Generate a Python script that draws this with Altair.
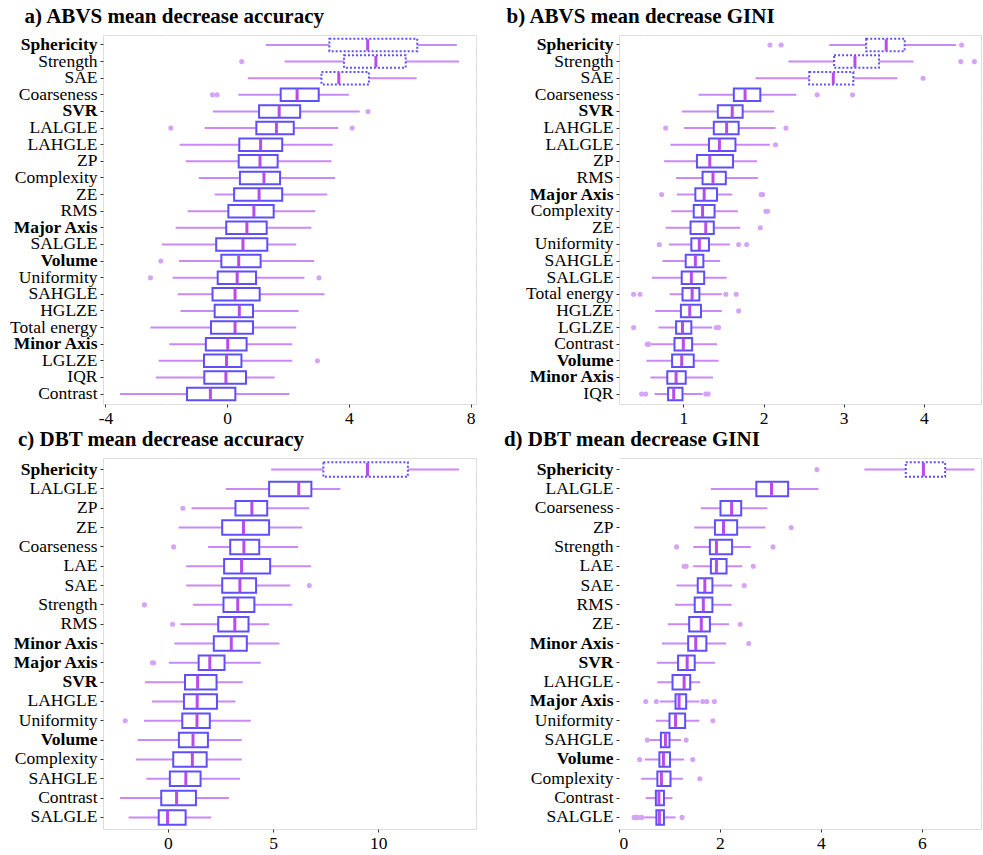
import altair as alt
import pandas as pd

# ---------------- a) ABVS mean decrease accuracy ----------------
A_names = ["Sphericity", "Strength", "SAE", "Coarseness", "SVR", "LALGLE", "LAHGLE", "ZP",
           "Complexity", "ZE", "RMS", "Major Axis", "SALGLE", "Volume", "Uniformity", "SAHGLE",
           "HGLZE", "Total energy", "Minor Axis", "LGLZE", "IQR", "Contrast"]
A_lo = [1.27, 1.89, 0.68, 0.37, -0.47, -0.74, -1.56, -1.36, -0.93, -0.41, -1.30, -1.69, -2.14,
        -1.58, -1.79, -1.62, -1.53, -2.52, -1.90, -2.25, -2.34, -3.52]
A_q1 = [3.36, 3.84, 3.10, 1.76, 1.05, 0.96, 0.40, 0.38, 0.42, 0.23, 0.04, -0.03, -0.36, -0.19,
        -0.31, -0.48, -0.41, -0.53, -0.70, -0.76, -0.75, -1.32]
A_med = [4.62, 4.89, 3.67, 2.30, 1.71, 1.62, 1.10, 1.08, 1.21, 1.05, 0.88, 0.65, 0.52, 0.38,
         0.33, 0.26, 0.40, 0.26, 0.02, -0.02, -0.04, -0.55]
A_q3 = [6.25, 5.87, 4.66, 3.01, 2.40, 2.19, 1.81, 1.66, 1.74, 1.81, 1.53, 1.30, 1.32, 1.10,
        0.95, 1.07, 0.85, 0.85, 0.64, 0.47, 0.62, 0.27]
A_hi = [7.55, 7.62, 6.23, 4.00, 4.36, 3.65, 3.47, 3.43, 3.55, 3.29, 2.90, 2.77, 2.27, 2.86,
        2.54, 3.20, 2.35, 2.27, 2.14, 2.14, 1.56, 2.05]
A_out_name = ["Strength", "Coarseness", "Coarseness", "SVR", "LALGLE", "LALGLE", "Volume",
              "Uniformity", "Uniformity", "LGLZE"]
A_out_val = [0.48, -0.48, -0.33, 4.63, -1.85, 4.11, -2.18, -2.52, 3.02, 2.97]
A_dotted = ["Sphericity", "Strength", "SAE"]
A_ticks = [-4, -2, 0, 2, 4, 6, 8]

# ---------------- b) ABVS mean decrease GINI ----------------
B_names = ["Sphericity", "Strength", "SAE", "Coarseness", "SVR", "LAHGLE", "LALGLE", "ZP", "RMS",
           "Major Axis", "Complexity", "ZE", "Uniformity", "SAHGLE", "SALGLE", "Total energy",
           "HGLZE", "LGLZE", "Contrast", "Volume", "Minor Axis", "IQR"]
B_lo = [2.82, 2.31, 1.90, 1.19, 0.98, 1.01, 0.84, 0.76, 0.91, 0.92, 0.85, 0.78, 0.82, 0.74,
        0.61, 0.83, 0.65, 0.69, 0.60, 0.54, 0.59, 0.64]
B_q1 = [3.28, 2.88, 2.57, 1.63, 1.43, 1.38, 1.32, 1.17, 1.24, 1.15, 1.13, 1.09, 1.10, 1.03,
        0.98, 0.99, 0.97, 0.91, 0.89, 0.86, 0.80, 0.81]
B_med = [3.53, 3.14, 2.87, 1.77, 1.61, 1.54, 1.45, 1.33, 1.37, 1.26, 1.24, 1.28, 1.20, 1.15,
         1.10, 1.11, 1.08, 0.99, 1.00, 0.98, 0.91, 0.88]
B_q3 = [3.76, 3.44, 3.12, 1.96, 1.74, 1.69, 1.65, 1.62, 1.53, 1.42, 1.39, 1.38, 1.32, 1.25,
        1.26, 1.20, 1.22, 1.10, 1.11, 1.13, 1.03, 0.99]
B_hi = [4.40, 3.87, 3.67, 2.41, 2.13, 2.15, 2.08, 1.92, 1.93, 1.61, 1.68, 1.71, 1.58, 1.46,
        1.54, 1.48, 1.48, 1.36, 1.42, 1.44, 1.37, 1.24]
B_out_name = ["Sphericity", "Sphericity", "Sphericity", "Strength", "Strength", "SAE",
              "Coarseness", "Coarseness", "LAHGLE", "LAHGLE", "LALGLE", "Major Axis", "Major Axis",
              "Major Axis", "Complexity", "Complexity", "ZE", "Uniformity", "Uniformity",
              "Uniformity", "Total energy", "Total energy", "Total energy", "Total energy",
              "HGLZE", "LGLZE", "LGLZE", "LGLZE", "Contrast", "Contrast", "IQR", "IQR", "IQR", "IQR"]
B_out_val = [2.08, 2.22, 4.47, 4.46, 4.63, 3.99, 2.67, 3.11, 0.78, 2.28, 2.15, 0.73, 1.97, 1.99,
             2.03, 2.05, 1.96, 0.70, 1.69, 1.79, 0.38, 0.46, 1.53, 1.66, 1.69, 0.38, 1.41, 1.44,
             0.55, 0.57, 0.48, 0.53, 1.28, 1.31]
B_dotted = ["Sphericity", "Strength", "SAE"]
B_ticks = [0.5, 1, 1.5, 2, 2.5, 3, 3.5, 4, 4.5]

# ---------------- c) DBT mean decrease accuracy ----------------
C_names = ["Sphericity", "LALGLE", "ZP", "ZE", "Coarseness", "LAE", "SAE", "Strength", "RMS",
           "Minor Axis", "Major Axis", "SVR", "LAHGLE", "Uniformity", "Volume", "Complexity",
           "SAHGLE", "Contrast", "SALGLE"]
C_lo = [4.91, 2.75, 1.12, 0.51, 1.91, 0.87, 0.87, 1.19, 0.59, 0.30, 0.05, -1.09, -0.76, -1.14,
        -1.44, -1.52, -1.03, -2.28, -1.87]
C_q1 = [7.39, 4.81, 3.21, 2.58, 2.96, 2.67, 2.58, 2.64, 2.39, 2.18, 1.46, 0.81, 0.76, 0.68,
        0.52, 0.25, 0.09, -0.32, -0.44]
C_med = [9.49, 6.22, 3.99, 3.59, 3.61, 3.50, 3.42, 3.32, 3.18, 3.01, 1.99, 1.41, 1.39, 1.38,
         1.19, 1.16, 0.85, 0.41, -0.02]
C_q3 = [11.41, 6.82, 4.72, 4.81, 4.34, 4.86, 4.19, 4.11, 3.83, 3.75, 2.69, 2.31, 2.33, 1.99,
        1.90, 1.84, 1.55, 1.33, 0.84]
C_hi = [13.84, 8.20, 6.72, 6.38, 6.19, 6.80, 5.82, 5.92, 4.81, 5.30, 4.41, 3.56, 3.21, 3.94,
        3.51, 3.51, 3.43, 2.90, 2.06]
C_out_name = ["ZP", "Coarseness", "SAE", "Strength", "RMS", "Major Axis", "Major Axis", "Uniformity"]
C_out_val = [0.71, 0.27, 6.72, -1.12, 0.22, -0.74, -0.68, -2.03]
C_dotted = ["Sphericity"]
C_ticks = [-2.5, 0, 2.5, 5, 7.5, 10, 12.5]

# ---------------- d) DBT mean decrease GINI ----------------
D_names = ["Sphericity", "LALGLE", "Coarseness", "ZP", "Strength", "LAE", "SAE", "RMS", "ZE",
           "Minor Axis", "SVR", "LAHGLE", "Major Axis", "Uniformity", "SAHGLE", "Volume",
           "Complexity", "Contrast", "SALGLE"]
D_lo = [4.86, 1.82, 1.62, 1.49, 1.47, 1.47, 1.14, 1.11, 0.97, 0.85, 0.75, 0.76, 0.81, 0.73,
        0.60, 0.51, 0.44, 0.53, 0.50]
D_q1 = [5.68, 2.72, 2.01, 1.90, 1.80, 1.82, 1.56, 1.50, 1.39, 1.37, 1.17, 1.06, 1.12, 1.00,
        0.83, 0.80, 0.76, 0.73, 0.74]
D_med = [6.03, 3.02, 2.23, 2.07, 1.93, 1.93, 1.70, 1.67, 1.63, 1.52, 1.35, 1.29, 1.19, 1.12,
         0.92, 0.88, 0.84, 0.79, 0.80]
D_q3 = [6.46, 3.35, 2.42, 2.34, 2.24, 2.13, 1.85, 1.85, 1.80, 1.73, 1.50, 1.41, 1.33, 1.31,
        1.00, 1.01, 1.02, 0.89, 0.89]
D_hi = [7.04, 3.95, 2.94, 2.90, 2.61, 2.44, 2.24, 2.23, 2.18, 2.12, 1.90, 1.61, 1.59, 1.59,
        1.23, 1.29, 1.27, 1.06, 1.12]
D_out_name = ["Sphericity", "ZP", "Strength", "Strength", "LAE", "LAE", "LAE", "SAE", "ZE",
              "Minor Axis", "Major Axis", "Major Axis", "Major Axis", "Major Axis", "Major Axis",
              "Uniformity", "SAHGLE", "SAHGLE", "Volume", "Volume", "Complexity",
              "SALGLE", "SALGLE", "SALGLE", "SALGLE", "SALGLE"]
D_out_val = [3.92, 3.41, 1.14, 3.05, 1.29, 1.33, 2.66, 2.48, 2.40, 2.57, 0.53, 0.74, 1.66, 1.74,
             1.89, 1.86, 0.56, 1.33, 0.41, 1.46, 1.60, 0.30, 0.33, 0.37, 0.45, 1.25]
D_dotted = ["Sphericity"]
D_ticks = [0, 1, 2, 3, 4, 5, 6, 7]

BOLD = ["Sphericity", "SVR", "Major Axis", "Volume", "Minor Axis"]

FONT = "Liberation Serif"
WHISKER = "#C98AF7"
BOXLINE = "#5F4FF8"
MEDIAN = "#B84CEB"
OUTLIER = "#D6A4F6"


def panel(title, names, lo, q1, med, q3, hi, on, ov, dotted, domain, ticks, major,
          width, height, tick_size, title_dx):
    box = pd.DataFrame(dict(name=names, lo=lo, q1=q1, med=med, q3=q3, hi=hi,
                            dotted=[n in dotted for n in names]))
    out = pd.DataFrame(dict(name=on, v=ov))
    bold_test = "indexof(" + str(BOLD) + ", datum.value) >= 0"
    y = alt.Y("name:N", sort=names, title=None,
              scale=alt.Scale(domain=names, paddingInner=0.25, paddingOuter=0.225),
              axis=alt.Axis(domain=False, tickColor="#333333", tickSize=3, tickWidth=1,
                            labelFontSize=17.5, labelColor="black", labelPadding=3,
                            labelFont=FONT,
                            labelFontWeight={"condition": {"test": bold_test, "value": "bold"},
                                             "value": "normal"},
                            grid=True, gridColor="white", gridWidth=1.4, bandPosition=0.5))
    xscale = alt.Scale(domain=domain, nice=False, zero=False)
    xaxis = alt.Axis(values=ticks, domain=False, tickColor="#333333", tickSize=3, tickWidth=1,
                     labelFontSize=17.5, labelColor="black", labelPadding=2, labelFont=FONT,
                     labelExpr="(" + major + ") ? '' + datum.value : ''",
                     tickOpacity={"condition": {"test": major, "value": 1}, "value": 0},
                     grid=True, gridColor="white",
                     gridWidth={"condition": {"test": major, "value": 1.4}, "value": 0.7})
    base = alt.Chart(box)
    whisk = base.mark_rule(color=WHISKER, strokeWidth=2).encode(
        x=alt.X("lo:Q", scale=xscale, axis=xaxis, title=None), x2="hi:Q", y=y)
    solid = base.transform_filter("!datum.dotted").mark_bar(
        fill="white", stroke=BOXLINE, strokeWidth=2).encode(x="q1:Q", x2="q3:Q", y=y)
    dots = base.transform_filter("datum.dotted").mark_bar(
        fill="white", stroke=BOXLINE, strokeWidth=2, strokeDash=[2, 2]).encode(
        x="q1:Q", x2="q3:Q", y=y)
    medt = base.mark_tick(color=MEDIAN, thickness=3, size=tick_size, opacity=1).encode(
        x="med:Q", y=y)
    outs = alt.Chart(out).mark_circle(color=OUTLIER, size=26, opacity=1).encode(
        x="v:Q", y=y)
    return alt.layer(whisk, solid, dots, medt, outs).properties(
        width=width, height=height,
        title=alt.TitleParams(title, anchor="start", frame="bounds", dx=title_dx,
                              fontSize=21, fontWeight="bold", font=FONT, color="black",
                              offset=8))


pa = panel("a) ABVS mean decrease accuracy", A_names, A_lo, A_q1, A_med, A_q3, A_hi,
           A_out_name, A_out_val, A_dotted, [-4.08, 8.18], A_ticks, "datum.value % 4 === 0",
           373, 369, 11.5, 15)
pb = panel("b) ABVS mean decrease GINI", B_names, B_lo, B_q1, B_med, B_q3, B_hi,
           B_out_name, B_out_val, B_dotted, [0.198, 4.712], B_ticks, "datum.value % 1 === 0",
           362, 369, 11.5, -19)
pc = panel("c) DBT mean decrease accuracy", C_names, C_lo, C_q1, C_med, C_q3, C_hi,
           C_out_name, C_out_val, C_dotted, [-3.09, 14.65], C_ticks, "datum.value % 5 === 0",
           373, 371, 13.5, 6)
pd_ = panel("d) DBT mean decrease GINI", D_names, D_lo, D_q1, D_med, D_q3, D_hi,
            D_out_name, D_out_val, D_dotted, [0.0, 7.17], D_ticks, "datum.value % 2 === 0",
            362, 371, 13.5, -24)

chart = alt.concat(pa, pb, pc, pd_, columns=2, spacing={"row": 54, "column": 143},
                   bounds="flush").properties(
    padding={"left": 9, "top": 5, "right": 0, "bottom": 0}
).configure_view(fill="#EBEBEB", stroke=None).configure(font=FONT)

chart.save("out.html", embed_options={"renderer": "svg", "actions": False})
